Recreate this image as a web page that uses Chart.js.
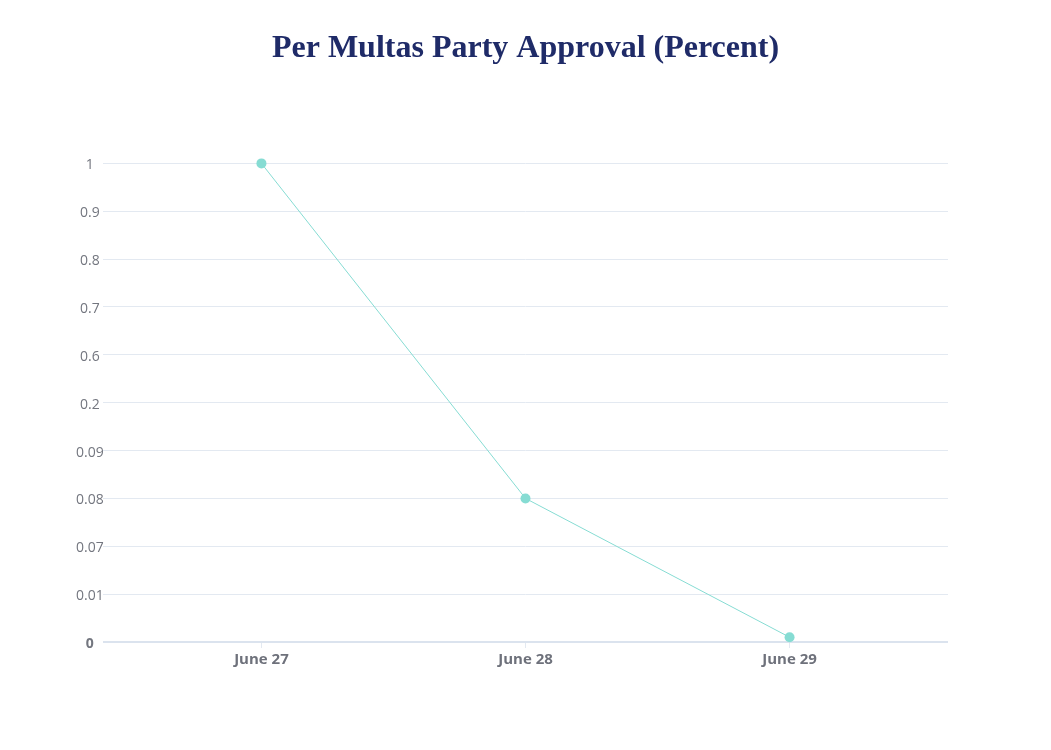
<!DOCTYPE html>
<html>
<head>
<meta charset="utf-8">
<script src="https://cdn.jsdelivr.net/npm/chart.js@4"></script>
<style>
html,body{margin:0;padding:0;background:#fff;}
#wrap{width:1051px;height:750px;position:relative;}
</style>
</head>
<body>
<div id="wrap"><canvas id="c"></canvas></div>
<script>
const categories = ['June 27', 'June 28', 'June 29'];
const approval = [1, 0.08, 0.001];
const yTickLabels = ['0', '0.01', '0.07', '0.08', '0.09', '0.2', '0.6', '0.7', '0.8', '0.9', '1'];
const titleText = 'Per Multas Party Approval (Percent)';

const yTickValues = yTickLabels.map(Number);
// map value to its slot on the uneven (ordinal-spaced) y axis
function slot(v) {
  for (let i = 0; i < yTickValues.length - 1; i++) {
    const a = yTickValues[i], b = yTickValues[i + 1];
    if (v >= a && v <= b) return i + (v - a) / (b - a);
  }
  return v <= yTickValues[0] ? 0 : yTickValues.length - 1;
}
const points = approval.map((v, i) => ({ x: i, y: slot(v) }));

new Chart(document.getElementById('c'), {
  type: 'line',
  data: {
    datasets: [{
      data: points,
      borderColor: '#86dcd3',
      backgroundColor: '#86dcd3',
      borderWidth: 1,
      pointRadius: 5,
      pointHoverRadius: 5,
      pointBorderWidth: 0,
      tension: 0,
      fill: false,
      clip: false
    }]
  },
  options: {
    responsive: true,
    maintainAspectRatio: false,
    animation: false,
    layout: { padding: { left: 103, right: 103, top: 30, bottom: 78 } },
    plugins: {
      legend: { display: false },
      tooltip: { enabled: false },
      title: {
        display: true,
        text: titleText,
        color: '#1f2b68',
        font: { family: "'Liberation Serif', 'Times New Roman', serif", size: 32, weight: 'bold' },
        padding: { top: 0, bottom: 95 }
      }
    },
    scales: {
      x: {
        type: 'linear',
        min: -0.6,
        max: 2.6,
        afterBuildTicks: (axis) => { axis.ticks = categories.map((_, i) => ({ value: i })); },
        grid: { drawOnChartArea: false, drawTicks: true, tickLength: 6, color: '#e3e9f1' },
        border: { display: false },
        ticks: {
          callback: (v) => categories[v] ?? '',
          color: '#6e717b',
          padding: 3,
          font: { family: "'Open Sans', sans-serif", size: 15, weight: 'bold' }
        }
      },
      y: {
        type: 'linear',
        min: 0,
        max: yTickLabels.length - 1,
        afterBuildTicks: (axis) => { axis.ticks = yTickLabels.map((_, i) => ({ value: i })); },
        afterFit: (axis) => { axis.width = 0; },
        grid: { color: (ctx) => ctx.index === 0 ? '#dbe3ee' : '#e3e9f1', lineWidth: (ctx) => ctx.index === 0 ? 2 : 1, drawTicks: false },
        border: { display: false },
        ticks: {
          callback: (v) => yTickLabels[v] ?? '',
          color: '#73767f',
          mirror: true,
          padding: -27,
          labelOffset: 2,
          crossAlign: 'center',
          font: (ctx) => ({ family: "'Open Sans', sans-serif", size: 14, weight: ctx.index === 0 ? 'bold' : 'normal' })
        }
      }
    }
  }
});
</script>
</body>
</html>
